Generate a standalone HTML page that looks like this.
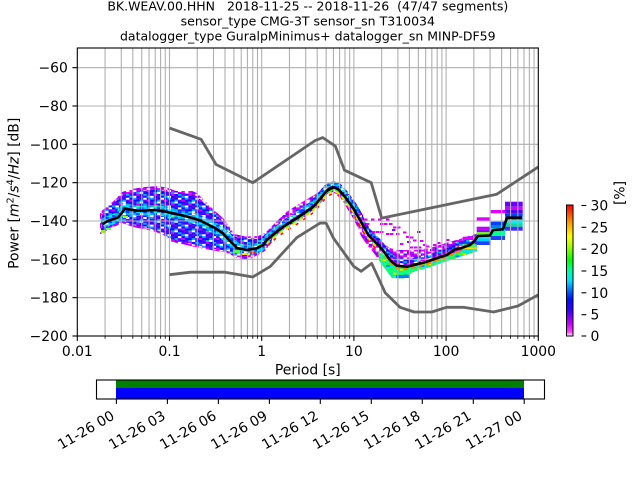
<!DOCTYPE html>
<html>
<head>
<meta charset="utf-8">
<style>
html,body{margin:0;padding:0;background:#fff;}
svg{display:block;}
text{font-family:"DejaVu Sans","Liberation Sans",sans-serif;fill:#000;}
</style>
</head>
<body>
<svg width="640" height="480" viewBox="0 0 640 480" xmlns="http://www.w3.org/2000/svg">
<defs>
<linearGradient id="cb" x1="0" y1="1" x2="0" y2="0">
<stop offset="0" stop-color="#ffffff"/>
<stop offset="0.03" stop-color="#ff40ff"/>
<stop offset="0.1" stop-color="#c000ff"/>
<stop offset="0.2" stop-color="#3000ff"/>
<stop offset="0.28" stop-color="#0010ff"/>
<stop offset="0.35" stop-color="#0070ff"/>
<stop offset="0.42" stop-color="#00e0ff"/>
<stop offset="0.5" stop-color="#00ffa0"/>
<stop offset="0.58" stop-color="#00ff00"/>
<stop offset="0.68" stop-color="#a0ff00"/>
<stop offset="0.76" stop-color="#ffff00"/>
<stop offset="0.86" stop-color="#ffa000"/>
<stop offset="1" stop-color="#ff0000"/>
</linearGradient>
<clipPath id="ax"><rect x="77.3" y="48" width="461" height="288"/></clipPath>
<pattern id="pEdge" patternUnits="userSpaceOnUse" x="77.3" y="0" width="17.35" height="9.6">
<rect x="0" y="0" width="3.47" height="1.92" fill="#e000ff"/>
<rect x="6.94" y="0" width="3.47" height="1.92" fill="#e000ff"/>
<rect x="10.41" y="0" width="3.47" height="1.92" fill="#8000ff"/>
<rect x="13.88" y="0" width="3.47" height="1.92" fill="#e000ff"/>
<rect x="0" y="1.92" width="3.47" height="1.92" fill="#8000ff"/>
<rect x="3.47" y="1.92" width="3.47" height="1.92" fill="#e000ff"/>
<rect x="10.41" y="1.92" width="3.47" height="1.92" fill="#e000ff"/>
<rect x="0" y="3.84" width="3.47" height="1.92" fill="#e000ff"/>
<rect x="3.47" y="3.84" width="3.47" height="1.92" fill="#8000ff"/>
<rect x="6.94" y="3.84" width="3.47" height="1.92" fill="#e000ff"/>
<rect x="13.88" y="3.84" width="3.47" height="1.92" fill="#8000ff"/>
<rect x="3.47" y="5.76" width="3.47" height="1.92" fill="#e000ff"/>
<rect x="6.94" y="5.76" width="3.47" height="1.92" fill="#8000ff"/>
<rect x="10.41" y="5.76" width="3.47" height="1.92" fill="#e000ff"/>
<rect x="13.88" y="5.76" width="3.47" height="1.92" fill="#e000ff"/>
<rect x="0" y="7.68" width="3.47" height="1.92" fill="#e000ff"/>
<rect x="6.94" y="7.68" width="3.47" height="1.92" fill="#e000ff"/>
<rect x="10.41" y="7.68" width="3.47" height="1.92" fill="#2020ff"/>
</pattern>
<pattern id="pMid" patternUnits="userSpaceOnUse" x="77.3" y="0" width="17.35" height="9.6">
<rect x="0" y="0" width="17.35" height="9.6" fill="#ffffff"/>
<rect x="0" y="0" width="3.47" height="1.92" fill="#1010ff"/>
<rect x="3.47" y="0" width="3.47" height="1.92" fill="#7000ff"/>
<rect x="6.94" y="0" width="3.47" height="1.92" fill="#00b0ff"/>
<rect x="13.88" y="0" width="3.47" height="1.92" fill="#1010ff"/>
<rect x="0" y="1.92" width="3.47" height="1.92" fill="#7000ff"/>
<rect x="3.47" y="1.92" width="3.47" height="1.92" fill="#1010ff"/>
<rect x="6.94" y="1.92" width="3.47" height="1.92" fill="#e000ff"/>
<rect x="10.41" y="1.92" width="3.47" height="1.92" fill="#1010ff"/>
<rect x="13.88" y="1.92" width="3.47" height="1.92" fill="#00b0ff"/>
<rect x="0" y="3.84" width="3.47" height="1.92" fill="#00b0ff"/>
<rect x="6.94" y="3.84" width="3.47" height="1.92" fill="#1010ff"/>
<rect x="10.41" y="3.84" width="3.47" height="1.92" fill="#7000ff"/>
<rect x="13.88" y="3.84" width="3.47" height="1.92" fill="#1010ff"/>
<rect x="0" y="5.76" width="3.47" height="1.92" fill="#1010ff"/>
<rect x="3.47" y="5.76" width="3.47" height="1.92" fill="#00b0ff"/>
<rect x="6.94" y="5.76" width="3.47" height="1.92" fill="#7000ff"/>
<rect x="10.41" y="5.76" width="3.47" height="1.92" fill="#1010ff"/>
<rect x="0" y="7.68" width="3.47" height="1.92" fill="#e000ff"/>
<rect x="3.47" y="7.68" width="3.47" height="1.92" fill="#1010ff"/>
<rect x="6.94" y="7.68" width="3.47" height="1.92" fill="#1010ff"/>
<rect x="10.41" y="7.68" width="3.47" height="1.92" fill="#00b0ff"/>
<rect x="13.88" y="7.68" width="3.47" height="1.92" fill="#7000ff"/>
</pattern>
<pattern id="pCore" patternUnits="userSpaceOnUse" x="77.3" y="0" width="17.35" height="9.6">
<rect x="0" y="0" width="17.35" height="9.6" fill="#ffffff"/>
<rect x="0" y="0" width="3.47" height="1.92" fill="#00b8ff"/>
<rect x="3.47" y="0" width="3.47" height="1.92" fill="#0040ff"/>
<rect x="6.94" y="0" width="3.47" height="1.92" fill="#00f0ff"/>
<rect x="10.41" y="0" width="3.47" height="1.92" fill="#00b8ff"/>
<rect x="13.88" y="0" width="3.47" height="1.92" fill="#0040ff"/>
<rect x="0" y="1.92" width="3.47" height="1.92" fill="#00f0ff"/>
<rect x="3.47" y="1.92" width="3.47" height="1.92" fill="#00b8ff"/>
<rect x="6.94" y="1.92" width="3.47" height="1.92" fill="#0040ff"/>
<rect x="13.88" y="1.92" width="3.47" height="1.92" fill="#00b8ff"/>
<rect x="0" y="3.84" width="3.47" height="1.92" fill="#0040ff"/>
<rect x="3.47" y="3.84" width="3.47" height="1.92" fill="#00b8ff"/>
<rect x="6.94" y="3.84" width="3.47" height="1.92" fill="#40ff80"/>
<rect x="10.41" y="3.84" width="3.47" height="1.92" fill="#00b8ff"/>
<rect x="13.88" y="3.84" width="3.47" height="1.92" fill="#00f0ff"/>
<rect x="0" y="5.76" width="3.47" height="1.92" fill="#00b8ff"/>
<rect x="6.94" y="5.76" width="3.47" height="1.92" fill="#00b8ff"/>
<rect x="10.41" y="5.76" width="3.47" height="1.92" fill="#0040ff"/>
<rect x="13.88" y="5.76" width="3.47" height="1.92" fill="#00b8ff"/>
<rect x="0" y="7.68" width="3.47" height="1.92" fill="#0040ff"/>
<rect x="3.47" y="7.68" width="3.47" height="1.92" fill="#00f0ff"/>
<rect x="6.94" y="7.68" width="3.47" height="1.92" fill="#00b8ff"/>
<rect x="10.41" y="7.68" width="3.47" height="1.92" fill="#00b8ff"/>
<rect x="13.88" y="7.68" width="3.47" height="1.92" fill="#0040ff"/>
</pattern>
<pattern id="pGreen" patternUnits="userSpaceOnUse" x="77.3" y="0" width="17.35" height="9.6">
<rect x="0" y="0" width="17.35" height="9.6" fill="#10ff40"/>
<rect x="3.47" y="0" width="3.47" height="1.92" fill="#00ffc0"/>
<rect x="10.41" y="0" width="3.47" height="1.92" fill="#ffe000"/>
<rect x="0" y="1.92" width="3.47" height="1.92" fill="#00ffc0"/>
<rect x="6.94" y="1.92" width="3.47" height="1.92" fill="#00e0ff"/>
<rect x="13.88" y="1.92" width="3.47" height="1.92" fill="#00ffc0"/>
<rect x="3.47" y="3.84" width="3.47" height="1.92" fill="#ffe000"/>
<rect x="10.41" y="3.84" width="3.47" height="1.92" fill="#00ffc0"/>
<rect x="0" y="5.76" width="3.47" height="1.92" fill="#00e0ff"/>
<rect x="6.94" y="5.76" width="3.47" height="1.92" fill="#00ffc0"/>
<rect x="13.88" y="5.76" width="3.47" height="1.92" fill="#0080ff"/>
<rect x="3.47" y="7.68" width="3.47" height="1.92" fill="#00ffc0"/>
<rect x="13.88" y="7.68" width="3.47" height="1.92" fill="#00ffc0"/>
</pattern>
</defs>

<!-- Title -->
<g font-size="12.5" text-anchor="middle">
<text x="307.8" y="10.5" xml:space="preserve" style="white-space:pre">BK.WEAV.00.HHN   2018-11-25 -- 2018-11-26  (47/47 segments)</text>
<text x="307.8" y="25.5">sensor_type CMG-3T sensor_sn T310034</text>
<text x="307.8" y="40.5">datalogger_type GuralpMinimus+ datalogger_sn MINP-DF59</text>
</g>

<!-- PPSD histogram (approximation) -->
<g clip-path="url(#ax)">
<polygon fill="url(#pEdge)" points="100,212 104,209 110,204 117,198 122,192 132,189 145,187 158,186 168,188 176,191 192,191 197,193 205,201 215,211 223,218 229,226 234,234 246,236.5 258,236 265,233 270,228 277,221 287,211.5 303,201.5 320,191.5 328,183 338,182.5 344,189 350,200 356,211 362,219 367,229 375,237 382,243 390,248 398,250 415,250 430,248 446,243 463,238 477,233 477,251 463,256 447,261 430,267 413,272 404,278.5 392,278 386,270 380,262 373,252 367,245 361,236 356,224 350,213 345,205 339,196 333,192 327,194 320,204 304,218 287,226 276,236 270,245 265,251 258,255 250,259 238,259 230,254 222,252 205,249 195,247 182,244 172,242 162,234 148,230 133,227 122,223 116,226 110,228 106,231 102,234 100,234"/>
<polygon fill="url(#pMid)" points="101,215 108,208 116,201 123,195 135,192 150,190 160,190 170,192 192,194 200,199 208,207 217,215 226,225 233,236 246,239 258,239 266,236 272,229 272,240 265,248 258,252 248,256 238,256 228,251 215,249 200,246 185,242 172,239 162,232 148,228 133,225 123,221 116,224 108,227 101,231"/>
<!-- left cloud core -->
<polyline fill="none" stroke="url(#pCore)" stroke-width="10" stroke-linejoin="round" points="102.5,224 108,221 112,219.5 118,217.5 121,214 125,208.5 130,209.5 137,210.7 145,210.5 155,210 165,211.5 173,213.3 183,215.5 193,218.3 200,220.5 208,224.5 215,228 223,233.5 230,241 237,248 246.7,250 256.7,248.3 263,245"/>
<rect x="101" y="230" width="4" height="3" fill="#80ff00"/>
<rect x="106" y="228" width="5" height="2" fill="#60ff60"/>
<rect x="123" y="216" width="5" height="2" fill="#a0ff00"/>
<rect x="233" y="250" width="7" height="3" fill="#40ff40"/>
<rect x="242" y="253" width="8" height="2" fill="#ffe000"/>
<rect x="250" y="252" width="6" height="2" fill="#ff2000"/>
<!-- rising / falling band -->
<polyline fill="none" stroke="url(#pMid)" stroke-width="8" stroke-linejoin="round" points="263,243 266.7,238 276.7,229.7 286,223 296.7,216.3 305,210.5 313.3,204.7 320,197 326.7,188.7 333.3,185.3 338.3,187.3 345,194.7 353.3,206.3 360,218"/>
<polyline fill="none" stroke="url(#pCore)" stroke-width="3" stroke-linejoin="round" points="263,241 266.7,236 276.7,227.7 286,221 296.7,214.3 305,208.5 313.3,202.7 320,195 326.7,186.7 333.3,183.3 338.3,185.3 345,192.7 353.3,204.3 360,216"/>
<polyline fill="none" stroke="#40ff20" stroke-width="1.6" stroke-linejoin="round" stroke-dasharray="5,3" points="266.7,242 276.7,234 286,227.3 296.7,220.6 305,214.8 313.3,209 320,201.3 326.7,193 333.3,189.6 338.3,191.6 345,199 353.3,210.6 360,222.3 368.3,237.3 378.3,247.3"/>
<polyline fill="none" stroke="#ffe000" stroke-width="1.6" stroke-linejoin="round" stroke-dasharray="4,4" points="266.7,244 276.7,235.7 286,229 296.7,222.3 305,216.5 313.3,210.7 320,203 326.7,194.7 333.3,191.3 338.3,193.3 345,200.7 353.3,212.3 360,224 368.3,239 378.3,249"/>
<polyline fill="none" stroke="#ff1000" stroke-width="1.6" stroke-linejoin="round" stroke-dasharray="3,6" points="266.7,246 276.7,237.7 286,231 296.7,224.3 305,218.5 313.3,212.7 320,205 326.7,196.7 333.3,193.3 338.3,195.3 345,202.7 353.3,214.3 360,226 368.3,241 378.3,251"/>
<!-- trough -->
<polyline fill="none" stroke="url(#pMid)" stroke-width="4" stroke-linejoin="round" points="360,215 368.3,230 378.3,240 385,248 390,255 396.7,260.7 406.7,261.7 416,259.5 426.7,256.7 436,253.5 446.7,250 455,245 463,242.5 470,240 474,237"/>
<polygon fill="url(#pGreen)" points="378,252 385,255 390,261 397,267 407,268 416,266 427,263 436,260 447,256.5 455,252.5 463,250 474,246 477,246 477,251 463,256 447,261 430,267 413,272 404,278.5 392,278 386,270 380,262"/>
<rect x="396" y="275" width="14" height="3" fill="#0080ff"/>
<polyline fill="none" stroke="#ff8000" stroke-width="2" stroke-dasharray="5,3" points="385,255 390,262 396.7,268 406.7,269 416,266.8 426.7,264 436,260.8 446.7,257.3 455,252.8 463,250.5 470,248"/>
<!-- right blocks -->
<rect x="462.7" y="236.7" width="14" height="3.3" fill="#dd00ff"/>
<rect x="462.7" y="241.7" width="14" height="2.5" fill="#0050ff"/>
<rect x="462.7" y="244.2" width="14" height="3" fill="#40ff40"/>
<rect x="462.7" y="247.2" width="14" height="2" fill="#ffe000"/>
<rect x="462.7" y="249.2" width="14" height="2.5" fill="#00e0ff"/>
<rect x="476.7" y="217.3" width="14" height="3.4" fill="#dd00ff"/>
<rect x="476.7" y="226.7" width="14" height="2.5" fill="#c000ff"/>
<rect x="476.7" y="229.2" width="14" height="3" fill="#9000ff"/>
<rect x="476.7" y="232.2" width="14" height="3" fill="#60ff00"/>
<rect x="476.7" y="235.2" width="14" height="3" fill="#00ff80"/>
<rect x="476.7" y="238.2" width="14" height="3" fill="#00d0ff"/>
<rect x="476.7" y="241.2" width="14" height="3.8" fill="#2040ff"/>
<rect x="490.7" y="210" width="14.3" height="3.3" fill="#dd00ff"/>
<rect x="490.7" y="221.7" width="14.3" height="3.3" fill="#0040ff"/>
<rect x="490.7" y="225" width="14.3" height="3" fill="#0080ff"/>
<rect x="490.7" y="228" width="14.3" height="4" fill="#00e0ff"/>
<rect x="490.7" y="232" width="14.3" height="4" fill="#00ff90"/>
<rect x="490.7" y="236" width="14.3" height="4" fill="#2040ff"/>
<rect x="505" y="201.7" width="17.7" height="5" fill="#6a00ff"/>
<rect x="505" y="206.7" width="17.7" height="3.3" fill="#d000ff"/>
<rect x="505" y="210" width="17.7" height="3.3" fill="#5000ff"/>
<rect x="505" y="213.3" width="17.7" height="3.4" fill="#0040ff"/>
<rect x="505" y="216.7" width="17.7" height="3.3" fill="#0090ff"/>
<rect x="505" y="220" width="17.7" height="3.5" fill="#00f0f0"/>
<rect x="505" y="223.5" width="17.7" height="3.2" fill="#00e0a0"/>
<rect x="505" y="226.7" width="17.7" height="4" fill="#4030ff"/>
<!-- sparse cells -->
<g fill="#dd00ff">
<rect x="360" y="218.5" width="3.5" height="2"/><rect x="364" y="218.5" width="3.5" height="2"/>
<rect x="371" y="218.5" width="3.5" height="2"/><rect x="378" y="218.5" width="3.5" height="2"/>
<rect x="386" y="218.5" width="3.5" height="2"/><rect x="366" y="223" width="3.5" height="2"/>
<rect x="380" y="223" width="3.5" height="2"/><rect x="384" y="223" width="3.5" height="2"/>
<rect x="389" y="223" width="3.5" height="2"/><rect x="393" y="226.5" width="3.5" height="2"/>
<rect x="397" y="226.5" width="3.5" height="2"/><rect x="372" y="231" width="3.5" height="2"/>
<rect x="376" y="231" width="3.5" height="2"/><rect x="380" y="231" width="3.5" height="2"/>
<rect x="386" y="233" width="3.5" height="2"/><rect x="390" y="233" width="3.5" height="2"/>
<rect x="396" y="233" width="3.5" height="2"/><rect x="403" y="231.5" width="3.5" height="2"/>
<rect x="406" y="236" width="3.5" height="2"/><rect x="410" y="236.5" width="3.5" height="2"/>
<rect x="413" y="239.5" width="3.5" height="2"/><rect x="420" y="240" width="3.5" height="2"/>
<rect x="423" y="244" width="3.5" height="2"/><rect x="400" y="243" width="3.5" height="2"/>
<rect x="410" y="246.5" width="3.5" height="2"/><rect x="414" y="246.5" width="3.5" height="2"/>
<rect x="418" y="246.5" width="3.5" height="2"/><rect x="426" y="245.5" width="3.5" height="2"/>
<rect x="433" y="244" width="3.5" height="2"/><rect x="437" y="242" width="3.5" height="2"/>
<rect x="357" y="214" width="3.5" height="2"/><rect x="446" y="239" width="3.5" height="2"/>
</g>
<g fill="#9000ff">
<rect x="392" y="229" width="3.5" height="2"/><rect x="407" y="241" width="3.5" height="2"/>
<rect x="430" y="249" width="3.5" height="2"/><rect x="441" y="246" width="3.5" height="2"/>
<rect x="417" y="231" width="3.5" height="2"/>
</g>
</g>

<!-- grid -->
<g stroke="#b0b0b0" stroke-width="1.1">
<line x1="105.06" y1="48" x2="105.06" y2="336"/><line x1="121.29" y1="48" x2="121.29" y2="336"/>
<line x1="132.81" y1="48" x2="132.81" y2="336"/><line x1="141.75" y1="48" x2="141.75" y2="336"/>
<line x1="149.05" y1="48" x2="149.05" y2="336"/><line x1="155.22" y1="48" x2="155.22" y2="336"/>
<line x1="160.57" y1="48" x2="160.57" y2="336"/><line x1="165.28" y1="48" x2="165.28" y2="336"/>
<line x1="169.5" y1="48" x2="169.5" y2="336"/>
<line x1="197.26" y1="48" x2="197.26" y2="336"/><line x1="213.49" y1="48" x2="213.49" y2="336"/>
<line x1="225.01" y1="48" x2="225.01" y2="336"/><line x1="233.95" y1="48" x2="233.95" y2="336"/>
<line x1="241.25" y1="48" x2="241.25" y2="336"/><line x1="247.42" y1="48" x2="247.42" y2="336"/>
<line x1="252.77" y1="48" x2="252.77" y2="336"/><line x1="257.48" y1="48" x2="257.48" y2="336"/>
<line x1="261.7" y1="48" x2="261.7" y2="336"/>
<line x1="289.46" y1="48" x2="289.46" y2="336"/><line x1="305.69" y1="48" x2="305.69" y2="336"/>
<line x1="317.21" y1="48" x2="317.21" y2="336"/><line x1="326.15" y1="48" x2="326.15" y2="336"/>
<line x1="333.45" y1="48" x2="333.45" y2="336"/><line x1="339.62" y1="48" x2="339.62" y2="336"/>
<line x1="344.97" y1="48" x2="344.97" y2="336"/><line x1="349.68" y1="48" x2="349.68" y2="336"/>
<line x1="353.9" y1="48" x2="353.9" y2="336"/>
<line x1="381.66" y1="48" x2="381.66" y2="336"/><line x1="397.89" y1="48" x2="397.89" y2="336"/>
<line x1="409.41" y1="48" x2="409.41" y2="336"/><line x1="418.35" y1="48" x2="418.35" y2="336"/>
<line x1="425.65" y1="48" x2="425.65" y2="336"/><line x1="431.82" y1="48" x2="431.82" y2="336"/>
<line x1="437.17" y1="48" x2="437.17" y2="336"/><line x1="441.88" y1="48" x2="441.88" y2="336"/>
<line x1="446.1" y1="48" x2="446.1" y2="336"/>
<line x1="473.86" y1="48" x2="473.86" y2="336"/><line x1="490.09" y1="48" x2="490.09" y2="336"/>
<line x1="501.61" y1="48" x2="501.61" y2="336"/><line x1="510.55" y1="48" x2="510.55" y2="336"/>
<line x1="517.85" y1="48" x2="517.85" y2="336"/><line x1="524.02" y1="48" x2="524.02" y2="336"/>
<line x1="529.37" y1="48" x2="529.37" y2="336"/><line x1="534.08" y1="48" x2="534.08" y2="336"/>
<line x1="77.3" y1="67.67" x2="538.3" y2="67.67"/><line x1="77.3" y1="106" x2="538.3" y2="106"/>
<line x1="77.3" y1="144.33" x2="538.3" y2="144.33"/><line x1="77.3" y1="182.67" x2="538.3" y2="182.67"/>
<line x1="77.3" y1="221" x2="538.3" y2="221"/><line x1="77.3" y1="259.33" x2="538.3" y2="259.33"/>
<line x1="77.3" y1="297.67" x2="538.3" y2="297.67"/>
</g>

<!-- noise models and mean -->
<g clip-path="url(#ax)" fill="none" stroke-linejoin="round">
<polyline stroke="#666666" stroke-width="2.8" points="169.5,274.7 190.7,272.2 225.0,272.2 252.8,277.0 270.3,266.4 296.8,237.6 320.1,223.1 326.1,223.1 333.5,238.2 353.9,266.5 361.2,271.3 371.7,263.4 385.3,292.9 400.0,307.3 414.1,312.0 431.8,312.0 446.5,307.3 463.4,307.3 493.7,312.0 517.9,306.0 538.3,294.8"/>
<polyline stroke="#666666" stroke-width="2.8" points="169.5,128.0 201.1,139.3 216.1,164.5 252.8,182.7 315.2,140.5 322.8,137.6 335.4,146.2 344.5,170.2 371.2,182.7 381.7,218.1 496.8,194.2 538.3,166.9"/>
<polyline stroke="#000000" stroke-width="2.6" points="102.5,224 108,221 112,219.5 118,217.5 121,214 125,208.5 130,209.5 137,210.7 145,210.5 155,210 165,211.5 173,213.3 183,215.5 193,218.3 200,220.5 208,224.5 215,228 223,233.5 230,241 237,248 246.7,250 256.7,248.3 263,245 266.7,240 276.7,231.7 286,225 296.7,218.3 305,212.5 313.3,206.7 320,199 326.7,190.7 333.3,187.3 338.3,189.3 345,196.7 353.3,208.3 360,220 368.3,235 378.3,245 385,253 390,260 396.7,265.7 406.7,266.7 416,264.5 426.7,261.7 436,258.5 446.7,255 455,249.5 463,247.5 470,245 474,241.5 478,236 490,235.5 493,230 503,229.3 507,217.7 522,217.7"/>
</g>

<!-- axes frame -->
<rect x="77.3" y="48" width="461" height="288" fill="none" stroke="#000" stroke-width="1.1"/>

<!-- ticks -->
<g stroke="#000" stroke-width="1.1">
<line x1="77.3" y1="336" x2="77.3" y2="340.9"/><line x1="169.5" y1="336" x2="169.5" y2="340.9"/>
<line x1="261.7" y1="336" x2="261.7" y2="340.9"/><line x1="353.9" y1="336" x2="353.9" y2="340.9"/>
<line x1="446.1" y1="336" x2="446.1" y2="340.9"/><line x1="538.3" y1="336" x2="538.3" y2="340.9"/>
<line x1="72.4" y1="67.67" x2="77.3" y2="67.67"/><line x1="72.4" y1="106" x2="77.3" y2="106"/>
<line x1="72.4" y1="144.33" x2="77.3" y2="144.33"/><line x1="72.4" y1="182.67" x2="77.3" y2="182.67"/>
<line x1="72.4" y1="221" x2="77.3" y2="221"/><line x1="72.4" y1="259.33" x2="77.3" y2="259.33"/>
<line x1="72.4" y1="297.67" x2="77.3" y2="297.67"/><line x1="72.4" y1="336" x2="77.3" y2="336"/>
</g>
<g stroke="#000" stroke-width="0.8">
<line x1="105.06" y1="336" x2="105.06" y2="338.8"/><line x1="121.29" y1="336" x2="121.29" y2="338.8"/>
<line x1="132.81" y1="336" x2="132.81" y2="338.8"/><line x1="141.75" y1="336" x2="141.75" y2="338.8"/>
<line x1="149.05" y1="336" x2="149.05" y2="338.8"/><line x1="155.22" y1="336" x2="155.22" y2="338.8"/>
<line x1="160.57" y1="336" x2="160.57" y2="338.8"/><line x1="165.28" y1="336" x2="165.28" y2="338.8"/>
<line x1="197.26" y1="336" x2="197.26" y2="338.8"/><line x1="213.49" y1="336" x2="213.49" y2="338.8"/>
<line x1="225.01" y1="336" x2="225.01" y2="338.8"/><line x1="233.95" y1="336" x2="233.95" y2="338.8"/>
<line x1="241.25" y1="336" x2="241.25" y2="338.8"/><line x1="247.42" y1="336" x2="247.42" y2="338.8"/>
<line x1="252.77" y1="336" x2="252.77" y2="338.8"/><line x1="257.48" y1="336" x2="257.48" y2="338.8"/>
<line x1="289.46" y1="336" x2="289.46" y2="338.8"/><line x1="305.69" y1="336" x2="305.69" y2="338.8"/>
<line x1="317.21" y1="336" x2="317.21" y2="338.8"/><line x1="326.15" y1="336" x2="326.15" y2="338.8"/>
<line x1="333.45" y1="336" x2="333.45" y2="338.8"/><line x1="339.62" y1="336" x2="339.62" y2="338.8"/>
<line x1="344.97" y1="336" x2="344.97" y2="338.8"/><line x1="349.68" y1="336" x2="349.68" y2="338.8"/>
<line x1="381.66" y1="336" x2="381.66" y2="338.8"/><line x1="397.89" y1="336" x2="397.89" y2="338.8"/>
<line x1="409.41" y1="336" x2="409.41" y2="338.8"/><line x1="418.35" y1="336" x2="418.35" y2="338.8"/>
<line x1="425.65" y1="336" x2="425.65" y2="338.8"/><line x1="431.82" y1="336" x2="431.82" y2="338.8"/>
<line x1="437.17" y1="336" x2="437.17" y2="338.8"/><line x1="441.88" y1="336" x2="441.88" y2="338.8"/>
<line x1="473.86" y1="336" x2="473.86" y2="338.8"/><line x1="490.09" y1="336" x2="490.09" y2="338.8"/>
<line x1="501.61" y1="336" x2="501.61" y2="338.8"/><line x1="510.55" y1="336" x2="510.55" y2="338.8"/>
<line x1="517.85" y1="336" x2="517.85" y2="338.8"/><line x1="524.02" y1="336" x2="524.02" y2="338.8"/>
<line x1="529.37" y1="336" x2="529.37" y2="338.8"/><line x1="534.08" y1="336" x2="534.08" y2="338.8"/>
</g>

<!-- tick labels -->
<g font-size="13.9" text-anchor="end">
<text x="67.8" y="72.7">−60</text>
<text x="67.8" y="111">−80</text>
<text x="67.8" y="149.3">−100</text>
<text x="67.8" y="187.7">−120</text>
<text x="67.8" y="226">−140</text>
<text x="67.8" y="264.3">−160</text>
<text x="67.8" y="302.7">−180</text>
<text x="67.8" y="341">−200</text>
</g>
<g font-size="13.9" text-anchor="middle">
<text x="77.3" y="356">0.01</text>
<text x="169.5" y="356">0.1</text>
<text x="261.7" y="356">1</text>
<text x="353.9" y="356">10</text>
<text x="446.1" y="356">100</text>
<text x="538.3" y="356">1000</text>
<text x="307.8" y="374.5">Period [s]</text>
</g>

<!-- y label -->
<text font-size="13.9" text-anchor="middle" transform="translate(18.5,193.3) rotate(-90)">Power [<tspan font-style="italic">m</tspan><tspan font-size="9.7" dy="-5">2</tspan><tspan dy="5">/</tspan><tspan font-style="italic">s</tspan><tspan font-size="9.7" dy="-5">4</tspan><tspan dy="5">/</tspan><tspan font-style="italic">Hz</tspan>] [dB]</text>

<!-- colorbar -->
<rect x="566.5" y="205" width="6.5" height="131" fill="url(#cb)" stroke="#000" stroke-width="1"/>
<g stroke="#000" stroke-width="1.1">
<line x1="581.5" y1="205.5" x2="586.3" y2="205.5"/>
<line x1="581.5" y1="227.3" x2="586.3" y2="227.3"/>
<line x1="581.5" y1="249.2" x2="586.3" y2="249.2"/>
<line x1="581.5" y1="271" x2="586.3" y2="271"/>
<line x1="581.5" y1="292.8" x2="586.3" y2="292.8"/>
<line x1="581.5" y1="314.7" x2="586.3" y2="314.7"/>
<line x1="581.5" y1="336" x2="586.3" y2="336"/>
</g>
<g font-size="13.9">
<text x="590.5" y="210.5">30</text>
<text x="590.5" y="232.3">25</text>
<text x="590.5" y="254.2">20</text>
<text x="590.5" y="276">15</text>
<text x="590.5" y="297.8">10</text>
<text x="590.5" y="319.7">5</text>
<text x="590.5" y="341">0</text>
</g>
<text font-size="13.9" text-anchor="middle" transform="translate(624.5,193) rotate(-90)">[%]</text>

<!-- time coverage bar -->
<rect x="116" y="380" width="408" height="8" fill="#008000"/>
<rect x="116" y="388" width="408" height="11" fill="#0000ff"/>
<rect x="96.5" y="380" width="448" height="19" fill="none" stroke="#000" stroke-width="1.1"/>
<g stroke="#000" stroke-width="1.1">
<line x1="116.4" y1="399" x2="116.4" y2="403.9"/><line x1="167.4" y1="399" x2="167.4" y2="403.9"/>
<line x1="218.4" y1="399" x2="218.4" y2="403.9"/><line x1="269.4" y1="399" x2="269.4" y2="403.9"/>
<line x1="320.3" y1="399" x2="320.3" y2="403.9"/><line x1="371.3" y1="399" x2="371.3" y2="403.9"/>
<line x1="422.3" y1="399" x2="422.3" y2="403.9"/><line x1="473.3" y1="399" x2="473.3" y2="403.9"/>
<line x1="524.2" y1="399" x2="524.2" y2="403.9"/>
</g>
<g font-size="13.9" text-anchor="end">
<text transform="translate(115.4,418.5) rotate(-30)">11-26 00</text>
<text transform="translate(166.4,418.5) rotate(-30)">11-26 03</text>
<text transform="translate(217.4,418.5) rotate(-30)">11-26 06</text>
<text transform="translate(268.4,418.5) rotate(-30)">11-26 09</text>
<text transform="translate(319.3,418.5) rotate(-30)">11-26 12</text>
<text transform="translate(370.3,418.5) rotate(-30)">11-26 15</text>
<text transform="translate(421.3,418.5) rotate(-30)">11-26 18</text>
<text transform="translate(472.3,418.5) rotate(-30)">11-26 21</text>
<text transform="translate(523.2,418.5) rotate(-30)">11-27 00</text>
</g>
</svg>
</body>
</html>
